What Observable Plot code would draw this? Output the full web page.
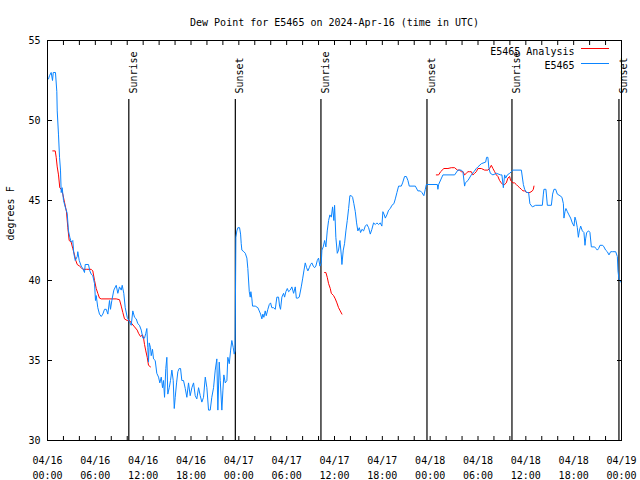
<!DOCTYPE html>
<html><head><meta charset="utf-8">
<script src="https://cdn.jsdelivr.net/npm/d3@7"></script>
<script src="https://cdn.jsdelivr.net/npm/@observablehq/plot@0.6"></script>
<style>body{margin:0;background:#fff}</style>
</head><body><div id="chart"></div>
<script>
const title = "Dew Point for E5465 on 2024-Apr-16 (time in UTC)";
const yLabel = "degrees F";
const seriesNames = ["E5465 Analysis", "E5465"];
const seriesColors = ["#ff0000", "#0a84ff"];
const startDate = "2024-04-16T00:00:00Z";
const spanHours = 72;
const yDomain = [30, 55];
const yTicks = [30, 35, 40, 45, 50, 55];
const xLabelEveryHours = 6;
const xTickEveryHours = 2;

// E5465 observations: hours after 04/16 00:00 UTC, dew point (F)
const obsHours = [
  0.13,0.25,0.46,0.63,0.72,1.00,1.17,1.22,1.38,1.51,
  1.63,1.72,1.84,2.01,2.22,2.47,2.63,2.80,2.97,3.17,
  3.30,3.48,3.73,3.80,3.98,4.23,4.48,4.64,4.73,5.14,
  5.31,5.48,5.68,5.90,6.02,6.11,6.31,6.52,6.74,6.94,
  7.15,7.37,7.57,7.78,7.90,8.07,8.32,8.62,8.82,9.03,
  9.25,9.37,9.57,9.75,10.00,10.29,10.50,10.70,10.92,11.13,
  11.33,11.54,11.76,11.96,12.17,12.33,12.46,12.58,12.67,12.76,
  12.92,13.01,13.17,13.30,13.51,13.71,13.93,14.09,14.27,14.43,
  14.55,14.68,14.84,14.97,15.09,15.27,15.43,15.60,15.77,15.90,
  16.02,16.19,16.35,16.52,16.69,16.85,17.06,17.28,17.48,17.69,
  17.90,18.11,18.32,18.53,18.73,18.95,19.16,19.36,19.57,19.79,
  19.99,20.20,20.41,20.61,20.83,21.04,21.24,21.37,21.54,21.67,
  21.87,22.00,22.12,22.30,22.50,22.62,22.80,22.96,23.12,23.30,
  23.42,23.53,23.63,23.75,23.88,24.09,24.22,24.30,24.38,24.63,
  24.81,25.01,25.13,25.31,25.43,25.51,25.63,25.72,26.06,26.39,
  26.56,26.73,26.89,27.01,27.14,27.31,27.44,27.64,27.82,27.98,
  28.14,28.36,28.57,28.77,28.98,29.11,29.23,29.40,29.61,29.74,
  29.90,30.08,30.24,30.45,30.65,30.87,31.08,31.21,31.41,31.58,
  31.83,32.00,32.16,32.33,32.50,32.66,32.84,33.00,33.16,33.34,
  33.50,33.66,33.84,34.00,34.17,34.34,34.42,34.59,34.76,34.92,
  35.09,35.26,35.42,35.60,35.76,35.92,36.01,36.17,36.35,36.51,
  36.68,36.85,36.93,37.10,37.26,37.43,37.60,37.77,37.93,38.11,
  38.27,38.43,38.61,38.77,38.93,39.11,39.27,39.44,39.65,39.86,
  40.06,40.28,40.49,40.69,40.90,41.12,41.32,41.53,41.74,41.94,
  42.07,42.25,42.37,42.57,42.79,43.00,43.20,43.45,43.63,43.83,
  44.04,44.38,44.54,44.79,45.01,45.21,45.38,46.14,46.46,46.76,
  46.96,47.21,47.39,47.52,48.90,48.97,49.06,49.60,51.07,51.48,
  51.91,52.11,52.32,52.41,52.74,53.16,53.49,53.79,53.99,54.42,
  54.96,55.08,55.24,55.37,55.55,55.87,56.30,56.84,57.00,57.18,
  57.34,57.47,57.68,57.97,58.18,58.38,59.44,59.69,59.85,60.10,
  60.35,60.51,60.82,61.23,62.07,62.20,62.27,62.52,62.70,63.20,
  63.36,63.53,63.74,63.95,64.28,64.53,64.71,64.78,64.91,65.03,
  65.21,65.41,65.62,65.83,66.04,66.16,66.29,66.46,66.59,66.71,
  66.88,67.09,67.29,67.42,67.50,67.63,67.88,68.04,68.22,68.63,
  68.80,68.97,69.13,69.30,69.64,69.80,70.01,70.22,70.43,70.64,
  70.85,71.27,71.48,71.56,71.68,71.89
];
const obsDew = [
  52.6,52.8,53.0,52.5,53.0,53.0,51.8,50.6,49.1,47.7,
  46.9,45.5,45.8,45.0,44.6,44.2,43.1,42.7,42.4,42.5,
  41.7,41.25,41.5,41.8,41.25,40.9,40.7,40.5,41.0,41.0,
  40.6,40.4,40.3,39.8,38.75,39.06,38.3,37.9,37.75,37.9,
  38.2,38.2,37.9,38.75,38.2,38.75,39.4,39.7,39.2,39.6,
  39.4,39.7,39.2,38.3,37.7,37.4,37.2,38.1,37.7,37.6,
  37.3,37.2,36.9,36.4,36.4,36.7,37.0,35.8,34.9,36.1,
  35.8,35.3,35.7,35.1,35.0,34.2,33.96,33.6,33.96,33.3,
  33.75,32.7,34.5,35.2,32.9,33.3,33.75,34.4,33.75,32.0,
  32.7,33.6,34.3,34.5,34.5,33.75,33.75,33.25,32.7,33.6,
  32.8,33.3,33.6,32.8,32.6,33.3,32.8,32.4,32.7,33.96,
  33.3,31.9,31.9,32.7,33.3,34.4,35.1,31.9,34.9,33.75,
  31.9,33.1,34.1,33.6,33.75,35.2,34.8,35.6,36.25,35.8,
  35.4,35.6,42.7,43.1,43.3,43.3,42.9,42.3,41.9,41.8,
  41.7,41.4,40.75,39.3,38.96,39.3,38.9,38.4,38.4,38.3,
  38.1,37.9,37.6,37.9,37.7,38.1,37.8,38.2,38.5,38.6,
  38.3,38.3,38.2,38.96,38.96,38.4,38.2,38.96,39.2,38.96,
  39.3,39.5,39.3,39.4,39.6,39.2,39.6,38.9,38.9,38.96,
  39.6,40.1,40.6,41.1,40.8,40.6,40.8,41.0,41.1,40.9,
  40.8,40.9,41.25,41.4,40.9,41.1,41.9,42.1,42.5,42.1,
  43.1,43.75,44.1,43.96,44.6,43.75,44.7,42.7,41.7,41.9,
  42.5,41.6,41.0,41.9,42.3,43.1,43.75,44.5,45.3,45.3,
  45.2,44.8,44.3,43.6,43.1,43.3,43.0,43.2,43.1,43.4,
  43.5,43.3,42.9,43.2,43.6,43.5,43.6,43.5,43.6,43.4,
  44.3,44.1,43.9,44.1,44.4,44.5,44.7,44.8,45.1,45.5,
  45.9,45.9,46.1,46.5,46.5,46.25,45.9,45.9,45.6,45.6,
  45.5,45.3,45.7,46.0,46.0,45.7,46.0,46.6,46.6,46.9,
  46.9,46.8,45.9,46.1,46.25,46.6,46.8,47.0,47.1,47.3,
  47.4,47.7,47.7,47.0,46.7,46.6,46.7,46.6,46.6,45.8,
  46.6,46.4,46.6,46.7,46.8,46.9,46.9,46.0,45.7,45.5,
  45.5,44.8,44.6,44.7,44.7,45.4,45.7,45.7,44.7,44.7,
  45.4,45.7,45.7,45.4,45.3,45.2,44.8,43.9,44.3,44.5,
  44.3,44.1,43.9,43.6,43.4,43.96,43.75,43.3,42.7,43.1,
  43.4,43.1,43.0,42.2,42.6,43.0,43.1,43.0,42.1,42.1,
  42.0,41.9,42.0,42.2,42.2,42.1,41.9,41.8,41.6,41.8,
  41.8,41.8,41.5,40.6,40.1,39.9
];

// E5465 Analysis (null = gap between runs)
const anaHours = [
  0.66,0.97,1.09,1.22,1.38,1.54,1.72,1.92,2.13,2.38,
  2.55,2.72,2.97,3.17,3.39,3.55,3.73,4.02,4.23,4.43,
  4.86,5.48,5.68,5.90,6.11,6.31,6.52,6.74,8.62,9.03,
  9.25,9.45,9.66,10.00,10.29,10.58,10.92,11.25,11.42,11.67,
  11.92,12.05,12.17,12.33,12.51,12.67,12.92,
  null,
  34.76,34.92,35.09,35.26,35.47,35.60,35.88,36.10,36.30,36.51,36.72,36.93,
  null,
  48.77,49.06,49.31,49.72,50.23,50.65,51.07,51.41,51.69,51.91,
  52.11,52.32,52.53,52.74,52.95,53.16,53.36,53.58,53.79,53.99,
  54.42,54.83,55.24,55.46,55.67,55.87,56.09,56.30,56.50,56.71,
  56.92,57.12,57.34,57.55,57.75,57.97,58.09,58.38,58.59,58.80,
  59.00,59.22,59.44,59.64,59.85,60.10,60.51,60.82,60.94,61.02
];
const anaDew = [
  48.1,48.1,47.7,47.1,46.6,45.8,45.7,45.4,44.9,44.3,
  43.3,42.5,42.4,42.0,41.6,41.25,41.0,40.9,40.8,40.7,
  40.7,40.7,40.6,40.0,39.5,39.2,38.9,38.85,38.85,38.8,
  38.4,38.0,37.6,37.5,37.5,37.3,37.1,36.9,36.7,36.5,
  36.6,36.4,36.0,35.6,35.2,34.7,34.6,
  null,
  40.5,40.5,40.2,39.8,39.5,39.2,39.06,38.85,38.6,38.3,38.1,37.9,
  null,
  46.6,46.6,46.8,47.0,47.0,47.05,47.05,46.9,46.9,46.8,
  46.8,46.6,46.7,46.8,46.8,46.8,46.6,46.7,46.8,47.0,
  47.0,46.9,46.9,47.0,47.2,47.0,46.8,46.6,46.5,46.25,
  46.1,46.0,46.0,46.1,46.4,46.5,46.25,46.1,46.1,46.0,
  45.9,45.8,45.7,45.6,45.6,45.5,45.5,45.6,45.7,45.9
];

// Sunrise / sunset markers (hours after start)
const eventHours = [10.2, 23.56, 34.3, 47.6, 58.26, 71.68];
const eventNames = ["Sunrise", "Sunset", "Sunrise", "Sunset", "Sunrise", "Sunset"];

const t0 = new Date(startDate).getTime();
const toDate = h => (h == null ? null : new Date(t0 + h * 3600e3));
const obs = obsHours.map((h, i) => ({time: toDate(h), dew: obsDew[i]}));
const ana = anaHours.map((h, i) => ({time: toDate(h), dew: anaDew[i]}));
const events = eventHours.map((h, i) => ({time: toDate(h), name: eventNames[i]}));
const xStart = toDate(0), xEnd = toDate(spanHours);
const labelTicks = d3.utcHour.every(xLabelEveryHours).range(xStart, new Date(+xEnd + 1));
const minorTicks = d3.utcHour.every(xTickEveryHours).range(xStart, new Date(+xEnd + 1));
const fmt = d3.utcFormat("%m/%d\n%H:%M");

const W = 640, H = 480, mT = 40, mB = 40, mL = 47, mR = 19;

const chart = Plot.plot({
  width: W, height: H,
  marginTop: mT, marginBottom: mB, marginLeft: mL, marginRight: mR,
  style: {fontFamily: "'DejaVu Sans Mono', monospace", fontSize: "10px", background: "white", color: "black"},
  x: {type: "utc", domain: [xStart, xEnd], label: null},
  y: {domain: yDomain, label: null},
  marks: [
    Plot.ruleX(events, {x: "time", insetTop: 59, stroke: "black", strokeWidth: 1.2}),
    Plot.text(events, {x: "time", text: "name", frameAnchor: "top", dy: 53, dx: 1, rotate: -90, textAnchor: "start", fill: "black"}),
    Plot.line(ana, {x: "time", y: "dew", stroke: seriesColors[0], strokeWidth: 1}),
    Plot.line(obs, {x: "time", y: "dew", stroke: seriesColors[1], strokeWidth: 1}),
    Plot.frame({stroke: "black"}),
    Plot.axisY({ticks: yTicks, tickSize: 0, tickPadding: 7, label: null}),
    Plot.axisY({ticks: yTicks, anchor: "left", tickSize: -5, tickFormat: () => "", label: null}),
    Plot.axisY({ticks: yTicks, anchor: "right", tickSize: -5, tickFormat: () => "", label: null}),
    Plot.axisX({ticks: labelTicks, tickSize: 0, tickPadding: 12, tickFormat: fmt, lineHeight: 1.55, label: null}),
    Plot.axisX({ticks: minorTicks, anchor: "bottom", tickSize: -4, tickFormat: () => "", label: null}),
    Plot.axisX({ticks: minorTicks, anchor: "top", tickSize: -4, tickFormat: () => "", label: null}),
    Plot.text([title], {text: d => d, frameAnchor: "top", dy: -22, fill: "black"}),
    Plot.text([yLabel], {text: d => d, frameAnchor: "left", dx: -37, rotate: -90, fill: "black"}),
    Plot.text([seriesNames[0]], {text: d => d, frameAnchor: "top-right", dx: -47, dy: 7, textAnchor: "end", fill: "black"}),
    Plot.text([seriesNames[1]], {text: d => d, frameAnchor: "top-right", dx: -47, dy: 21, textAnchor: "end", fill: "black"})
  ]
});
document.getElementById("chart").appendChild(chart);

// legend line samples
const svg = d3.select(chart);
const right = W - mR;
[[48.5, seriesColors[0]], [63.5, seriesColors[1]]].forEach(([y, c]) => {
  svg.append("line").attr("x1", right - 40).attr("x2", right - 12)
    .attr("y1", y).attr("y2", y).attr("stroke", c).attr("stroke-width", 1);
});
</script>
</body></html>
